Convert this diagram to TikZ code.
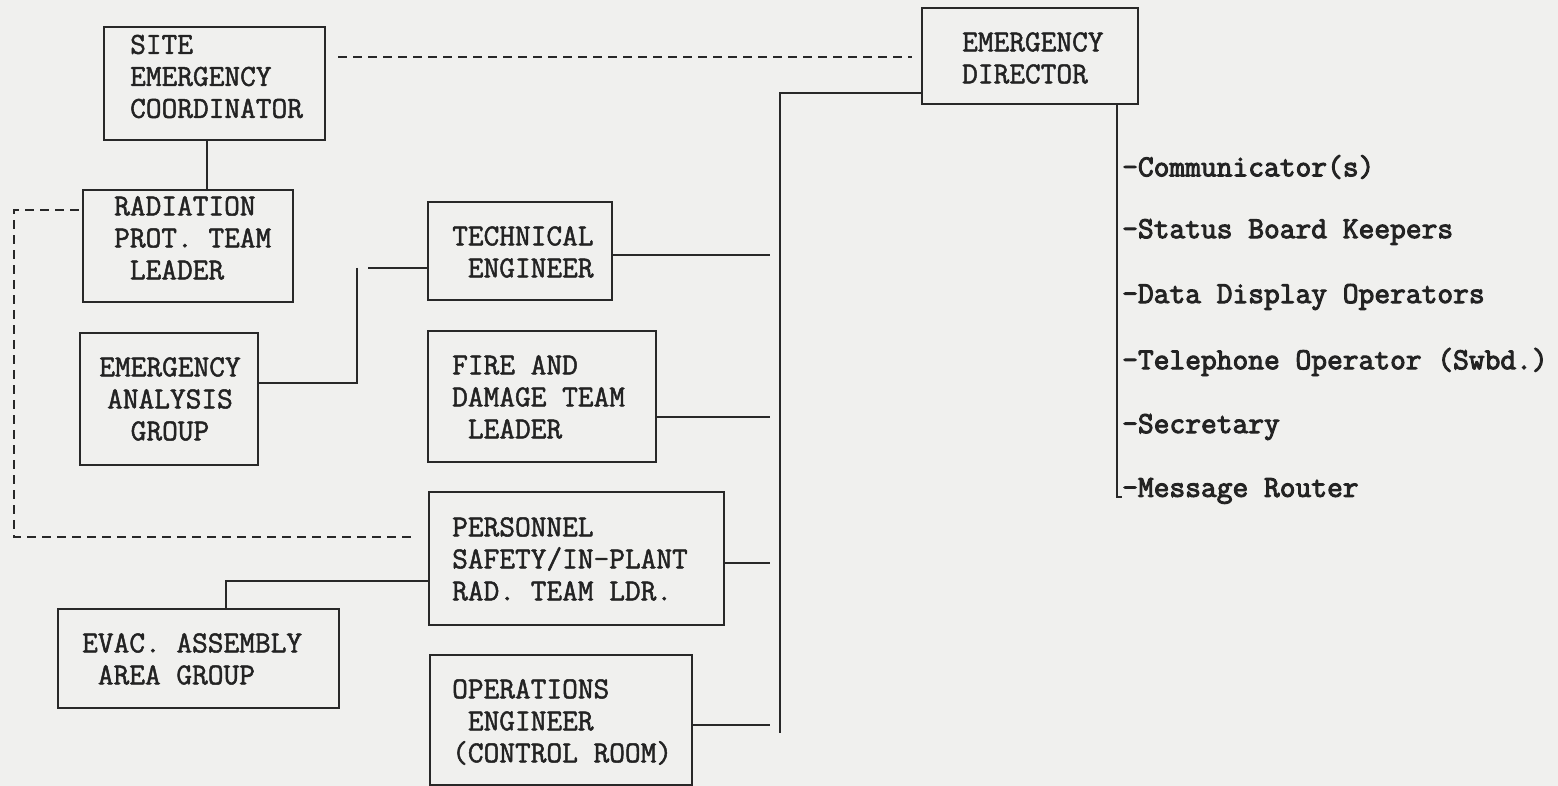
\documentclass[tikz,border=0pt]{standalone}
\usepackage{fontspec}
\newfontfamily\boxfont{Latin Modern Mono}[FakeBold=1.6]
\newfontfamily\itemfont{Latin Modern Mono}[FakeBold=3.2]
\definecolor{bgc}{RGB}{240,240,238}
\definecolor{linec}{RGB}{40,40,40}
\definecolor{textc}{RGB}{35,35,35}
\begin{document}
\begin{tikzpicture}[x=1pt,y=-1pt,
  box/.style={draw=linec, line width=2.6pt, inner sep=0pt},
  txt/.style={text=textc, font=\boxfont\fontsize{30.5}{32}\selectfont, inner sep=0pt, align=left, anchor=west},
  itm/.style={text=textc, font=\itemfont\fontsize{30.6}{32}\selectfont, inner sep=0pt, anchor=west},
  ln/.style={draw=linec, line width=2.6pt},
  dashln/.style={ln, dash pattern=on 9pt off 6pt}]
\fill[bgc] (0,0) rectangle (1558,786);
\useasboundingbox (0,0) rectangle (1558,786);

% boxes
\node[box, minimum width=221pt, minimum height=113pt] (sec) at (214.5,83.5) {};
\node[box, minimum width=210pt, minimum height=112pt] (rptl) at (188,246) {};
\node[box, minimum width=184pt, minimum height=98pt] (te) at (520,251) {};
\node[box, minimum width=178pt, minimum height=132pt] (eag) at (169,399) {};
\node[box, minimum width=228pt, minimum height=131pt] (fdtl) at (542,396.5) {};
\node[box, minimum width=295pt, minimum height=133pt] (psipr) at (576.5,558.5) {};
\node[box, minimum width=281pt, minimum height=99pt] (evac) at (198.5,658.5) {};
\node[box, minimum width=262pt, minimum height=130pt] (oe) at (561,720) {};
\node[box, minimum width=216pt, minimum height=96pt] (ed) at (1030,56) {};

% box texts
\node[txt] (sect) at (130,76.5) {SITE\\EMERGENCY\\COORDINATOR};
\node[txt] (rptlt) at (114,238) {RADIATION\\PROT. TEAM\\\phantom{X}LEADER};
\node[txt] (tet) at (452,252) {TECHNICAL\\\phantom{X}ENGINEER};
\node[txt, align=center, anchor=center] (eagt) at (170,399) {EMERGENCY\\ANALYSIS\\GROUP};
\node[txt] (fdtlt) at (452,397) {FIRE AND\\DAMAGE TEAM\\\phantom{X}LEADER};
\node[txt] (psiprt) at (452,559) {PERSONNEL\\SAFETY/IN-PLANT\\RAD. TEAM LDR.};
\node[txt] (evact) at (82,659) {EVAC. ASSEMBLY\\\phantom{X}AREA GROUP};
\node[txt] (oet) at (452,722) {OPERATIONS\\\phantom{X}ENGINEER\\(CONTROL ROOM)};
\node[txt] (edt) at (962,58) {EMERGENCY\\DIRECTOR};

% staff list
\node[itm] (i1) at (1122,167) {-Communicator(s)};
\node[itm] (i2) at (1122,232) {-Status Board Keepers};
\node[itm] (i3) at (1122,297) {-Data Display Operators};
\node[itm] (i4) at (1122,362) {-Telephone Operator (Swbd.)};
\node[itm] (i5) at (1122,427) {-Secretary};
\node[itm] (i6) at (1122,491) {-Message Router};

% helper coordinates
\coordinate (busT) at (780,93);
\coordinate (busB) at (780,733);
\coordinate (tap) at (770,0);
\coordinate (dl) at (14,537);
\coordinate (ev) at (226,581);
\coordinate (tej) at (357,268);
\coordinate (rbus) at (1117,497);

% connectors
\draw[ln] ([xshift=-7.5pt]sec.south) -- ([xshift=-7.5pt]sec.south |- rptl.north);
\draw[dashln] (338,57) coordinate (dsA) -- ([xshift=-9pt]ed.west |- dsA);
\draw[dashln] ([xshift=-3pt]rptl.west |- 0,210) -| (dl) -- ([xshift=-15pt]psipr.west |- dl);
\draw[ln] (ed.west |- busT) -- (busT) -- (busB);
\draw[ln] ([yshift=-4pt]te.east) -- ([yshift=-4pt]te.east -| tap);
\draw[ln] (te.west |- tej) -- ([xshift=11pt]tej) (tej) -- ++(0,115) -- (eag.east |- 0,383);
\draw[ln] ([yshift=-20.5pt]fdtl.east) -- ([yshift=-20.5pt]fdtl.east -| tap);
\draw[ln] ([yshift=-4.5pt]psipr.east) -- ([yshift=-4.5pt]psipr.east -| tap);
\draw[ln] (psipr.west |- ev) -- (ev) -- (ev |- evac.north);
\draw[ln] ([yshift=-5pt]oe.east) -- ([yshift=-5pt]oe.east -| tap);
\draw[ln] (ed.south -| rbus) -- (rbus) -- ([xshift=5pt]rbus);
\end{tikzpicture}
\end{document}
